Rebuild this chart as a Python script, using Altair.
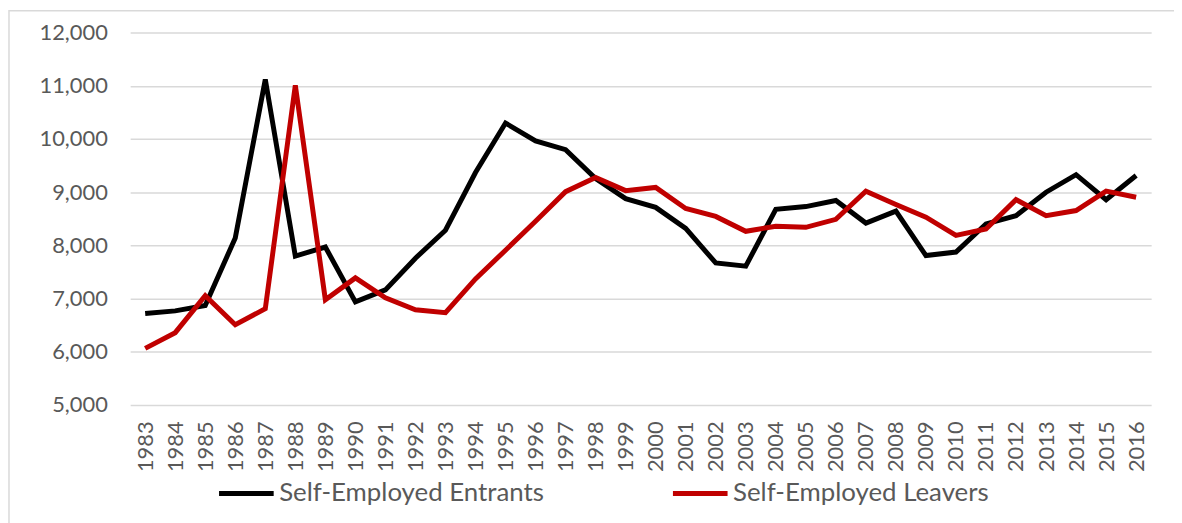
import altair as alt
import pandas as pd

years = list(range(1983, 2017))
entrants = [6720, 6770, 6870, 8140, 11120, 7800, 7970, 6940, 7165, 7760,
            8285, 9370, 10300, 9965, 9800, 9255, 8880, 8715, 8320, 7670,
            7610, 8680, 8730, 8845, 8420, 8645, 7810, 7875, 8405, 8560,
            9000, 9330, 8860, 9315]
leavers = [6065, 6360, 7055, 6510, 6810, 11010, 6980, 7390, 7015, 6790,
           6735, 7370, 7910, 8455, 9010, 9275, 9030, 9090, 8695, 8545,
           8265, 8360, 8340, 8490, 9020, 8770, 8530, 8190, 8310, 8860,
           8560, 8655, 9020, 8905]
series_names = ["Self-Employed Entrants", "Self-Employed Leavers"]
series_colors = ["#000000", "#c00000"]

rows = []
for i, y in enumerate(years):
    rows.append({"year": str(y), "series": series_names[0], "value": entrants[i], "order": 0})
    rows.append({"year": str(y), "series": series_names[1], "value": leavers[i], "order": 1})
df = pd.DataFrame(rows)

FONT = "Lato"
GREY = "#595959"

lines = alt.Chart(df).mark_line(strokeWidth=5, strokeJoin="miter", strokeCap="butt").encode(
    x=alt.X("year:O", title=None,
            scale=alt.Scale(type="point", padding=0.5),
            axis=alt.Axis(labelAngle=-90, labelAlign="right", labelBaseline="middle",
                          labelPadding=16, ticks=False, domain=False, grid=False,
                          labelFontSize=22, labelColor=GREY, labelFont=FONT)),
    y=alt.Y("value:Q", title=None,
            scale=alt.Scale(domain=[5000, 12000], nice=False, zero=False),
            axis=alt.Axis(values=list(range(5000, 12001, 1000)), format=",.0f",
                          ticks=False, domain=False, grid=True, gridColor="#d9d9d9",
                          gridWidth=1.5, labelPadding=23, labelFontSize=22,
                          labelColor=GREY, labelFont=FONT)),
    color=alt.Color("series:N",
                    scale=alt.Scale(domain=series_names, range=series_colors),
                    legend=alt.Legend(title=None, orient="none", legendX=87, legendY=434,
                                      direction="horizontal", columns=2, columnPadding=119,
                                      symbolType="stroke", symbolSize=3025,
                                      symbolStrokeWidth=5, labelOffset=3,
                                      labelFontSize=26, labelColor=GREY, labelFont=FONT,
                                      labelLimit=400, padding=0)),
    detail="series:N",
    order=alt.Order("order:Q"),
)

border_df = pd.DataFrame({"k": [0]})
border = alt.Chart(border_df).mark_rect(fill=None, stroke="#d9d9d9", strokeWidth=1.5, clip=False).encode(
    x=alt.value(-122), x2=alt.value(1100), y=alt.value(-22), y2=alt.value(560)
)

chart = alt.layer(border, lines).properties(
    width=1028, height=375,
    autosize=alt.AutoSizeParams(type="none"),
    padding={"left": 123, "top": 23, "right": 23, "bottom": 117},
    background="white",
).configure_view(stroke=None)

chart.save("out.html", embed_options={"renderer": "svg", "actions": False})
